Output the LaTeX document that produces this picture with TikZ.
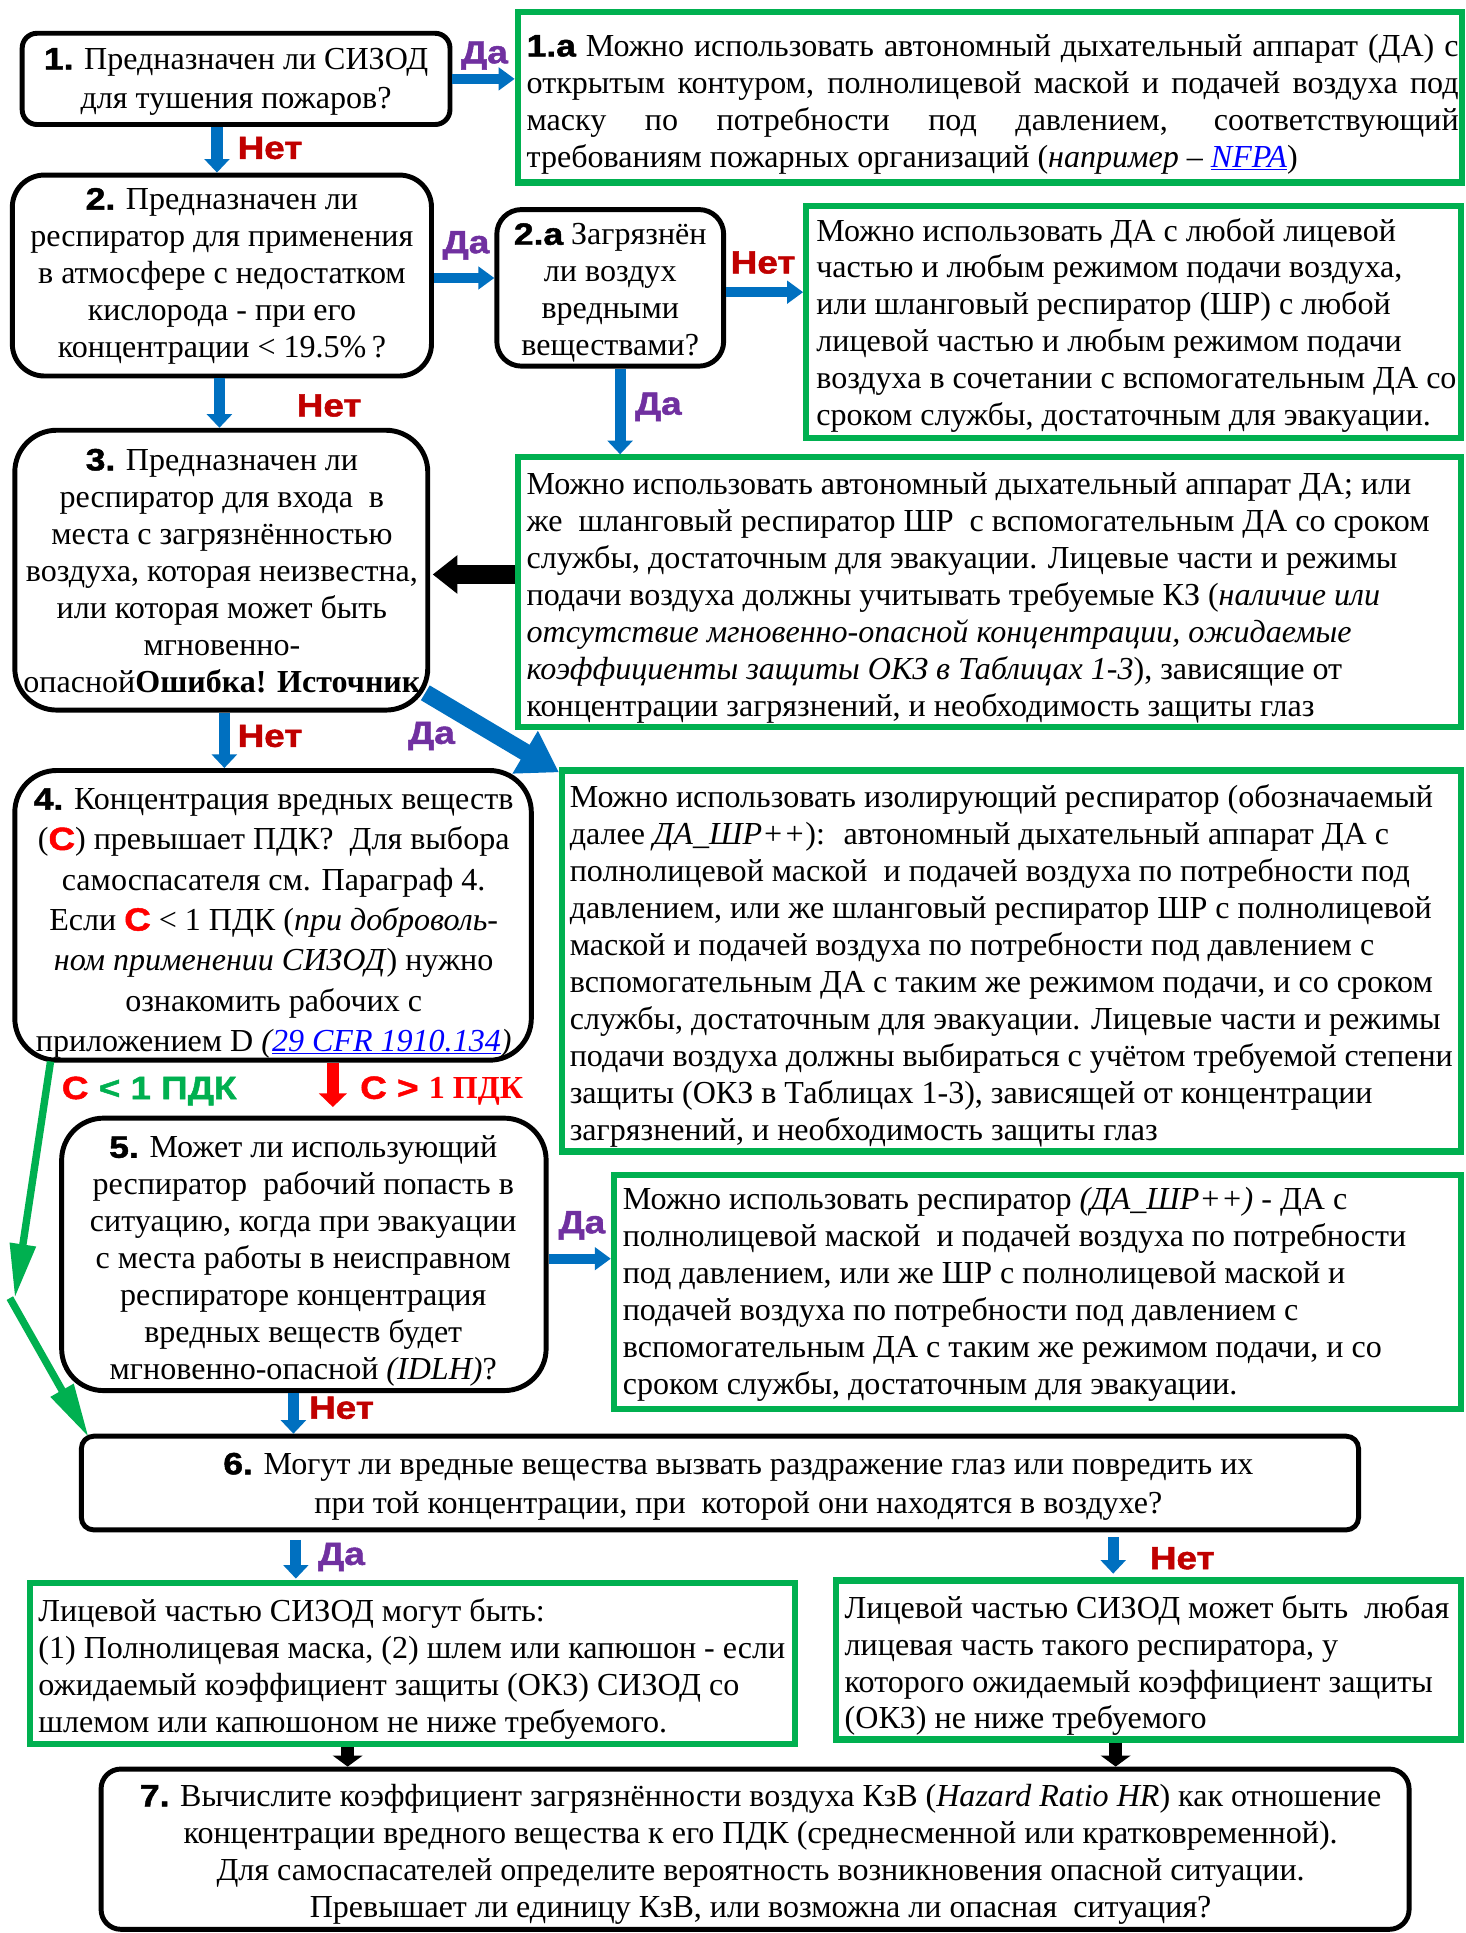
\documentclass[tikz,border=0pt]{standalone}
\usepackage{fontspec}
\setmainfont{Liberation Serif}
\newfontfamily\lbl{Liberation Sans}[FakeStretch=1.15, BoldFeatures={FakeBold=1.5}]
\usetikzlibrary{arrows.meta}
\definecolor{grn}{HTML}{00B050}
\definecolor{blu}{HTML}{0070C0}
\definecolor{pur}{HTML}{7030A0}
\definecolor{dred}{HTML}{C00000}
\definecolor{lnk}{HTML}{0000FF}
\newcommand\tfont{\fontsize{26}{30}\selectfont}
\newcommand\nm[1]{{\lbl\bfseries\fontsize{25}{30}\selectfont #1}}
\newcommand\cc{{\lbl\bfseries\color{red}C}}
\newcommand\lnkt[1]{\textcolor{lnk}{\underline{#1}}}
\tikzset{
  qbox/.style={draw=black, line width=4pt, fill=white, inner sep=0pt},
  gbox/.style={draw=grn, line width=5pt, fill=white, inner sep=0pt},
  ctxt/.style={inner sep=0pt, font=\tfont, align=center},
  ltxt/.style={inner sep=0pt, font=\tfont, align=left, anchor=west},
  lab/.style={inner sep=0pt, font=\lbl\bfseries\fontsize{26}{26}\selectfont},
  da/.style={lab, text=pur},
  net/.style={lab, text=dred},
  barrow/.style={draw=blu, line width=9pt, -{Triangle[length=11pt,width=20pt]}},
  harrow/.style={draw=blu, line width=8pt, -{Triangle[length=13pt,width=18pt]}},
  bigarrow/.style={draw=blu, line width=14pt, -{Triangle[length=32pt,width=38pt]}},
  blkarrow/.style={draw=black, line width=15pt, -{Triangle[length=20pt,width=30pt]}},
  smallblk/.style={draw=black, line width=11pt, -{Triangle[length=9pt,width=24pt]}},
  redarrow/.style={draw=red, line width=10pt, -{Triangle[length=11pt,width=22pt]}},
  grnarrow/.style={draw=grn, line width=6pt, -{Triangle[length=44pt,width=20pt]}},
}
\begin{document}
\begin{tikzpicture}[x=1pt,y=-1pt]
\fill[white] (0,0) rectangle (1189,1568);
\useasboundingbox (0,0) rectangle (1189,1568);

% ---------- boxes ----------
\node[qbox, rounded corners=12pt, minimum width=347pt, minimum height=74pt] (q1) at (191.5,64) {};
\node[gbox, minimum width=766pt, minimum height=138pt] (a1) at (803,79) {};
\node[qbox, rounded corners=26pt, minimum width=340pt, minimum height=163pt] (q2) at (180,223.5) {};
\node[qbox, rounded corners=20pt, minimum width=184pt, minimum height=127pt] (q2a) at (495,233.5) {};
\node[gbox, minimum width=531pt, minimum height=188pt] (g2) at (919.5,261) {};
\node[qbox, rounded corners=34pt, minimum width=335pt, minimum height=227pt] (q3) at (179.5,462.5) {};
\node[gbox, minimum width=765pt, minimum height=219pt] (g3) at (802.5,480.5) {};
\node[qbox, rounded corners=34pt, minimum width=419pt, minimum height=235pt] (q4) at (221.5,742.5) {};
\node[gbox, minimum width=729pt, minimum height=309pt] (g4) at (820.5,779.5) {};
\node[qbox, rounded corners=34pt, minimum width=393pt, minimum height=221pt] (q5) at (246.5,1017.5) {};
\node[gbox, minimum width=687pt, minimum height=190pt] (g5) at (841.5,1048) {};
\node[qbox, rounded corners=10pt, minimum width=1036pt, minimum height=76pt] (q6) at (584,1203) {};
\node[gbox, minimum width=621pt, minimum height=131pt] (g6L) at (334.5,1349.5) {};
\node[gbox, minimum width=507pt, minimum height=129pt] (g6R) at (931.5,1346.5) {};
\node[qbox, rounded corners=16pt, minimum width=1061pt, minimum height=130pt] (q7) at (612.5,1500) {};

% ---------- texts ----------
\node[ctxt, font=\fontsize{26}{32}\selectfont] (t1) at (191.5,66.5) {\nm{1.} Предназначен ли СИЗОД\\для тушения пожаров?};
\node[inner sep=0pt, font=\tfont, text width=756pt, align=justify, anchor=west] (ta1) at (427,84.5)
 {\nm{1.a} Можно использовать автономный дыхательный аппарат (ДА) с\linebreak
  открытым контуром, полнолицевой маской и подачей воздуха под\linebreak
  маску по потребности под давлением, соответствующий\linebreak
  требованиям пожарных организаций (\textit{например} – \lnkt{\textit{NFPA}})};
\node[ctxt] (t2) at (180,224) {\nm{2.} Предназначен ли\\респиратор для применения\\в атмосфере с недостатком\\кислорода - при его\\концентрации < 19.5\%\,?};
\node[ctxt] (t2a) at (495,237.5) {\nm{2.a} Загрязнён\\ли воздух\\вредными\\веществами?};
\node[ltxt] (tg2) at (662,264) {Можно использовать ДА с любой лицевой\\частью и любым режимом подачи воздуха,\\или шланговый респиратор (ШР) с любой\\лицевой частью и любым режимом подачи\\воздуха в сочетании с вспомогательным ДА со\\сроком службы, достаточным для эвакуации.};
\node[ctxt] (t3) at (180,463) {\nm{3.} Предназначен ли\\респиратор для входа \ в\\места с загрязнённостью\\воздуха, которая неизвестна,\\или которая может быть\\мгновенно-\\опасной\textbf{Ошибка! Источник}};
\node[ltxt] (tg3) at (427,485) {Можно использовать автономный дыхательный аппарат ДА; или\\же \ шланговый респиратор ШР \ с вспомогательным ДА со сроком\\службы, достаточным для эвакуации. Лицевые части и режимы\\подачи воздуха должны учитывать требуемые КЗ (\textit{наличие или}\\\textit{отсутствие мгновенно-опасной концентрации, ожидаемые}\\\textit{коэффициенты защиты ОКЗ в Таблицах 1-3}), зависящие от\\концентрации загрязнений, и необходимость защиты глаз};
\node[ctxt, font=\fontsize{26}{32.7}\selectfont] (t4) at (222,749) {\nm{4.} Концентрация вредных веществ\\(\cc) превышает ПДК? \ Для выбора\\самоспасателя см. Параграф 4.\\Если \cc{} < 1 ПДК (\textit{при доброволь-}\\\textit{ном применении СИЗОД}) нужно\\ознакомить рабочих с\\приложением D \textit{(\lnkt{29 CFR 1910.134})}};
\node[ltxt] (tg4) at (462,783.5) {Можно использовать изолирующий респиратор (обозначаемый\\далее \textit{ДА\_ШР++}): \ автономный дыхательный аппарат ДА с\\полнолицевой маской \ и подачей воздуха по потребности под\\давлением, или же шланговый респиратор ШР с полнолицевой\\маской и подачей воздуха по потребности под давлением с\\вспомогательным ДА с таким же режимом подачи, и со сроком\\службы, достаточным для эвакуации. Лицевые части и режимы\\подачи воздуха должны выбираться с учётом требуемой степени\\защиты (ОКЗ в Таблицах 1-3), зависящей от концентрации\\загрязнений, и необходимость защиты глаз};
\node[ctxt] (t5) at (246,1023) {\nm{5.} Может ли использующий\\респиратор \ рабочий попасть в\\ситуацию, когда при эвакуации\\с места работы в неисправном\\респираторе концентрация\\вредных веществ будет\\мгновенно-опасной \textit{(IDLH)}?};
\node[ltxt] (tg5) at (505,1050) {Можно использовать респиратор \textit{(ДА\_ШР++)} - ДА с\\полнолицевой маской \ и подачей воздуха по потребности\\под давлением, или же ШР с полнолицевой маской и\\подачей воздуха по потребности под давлением с\\вспомогательным ДА с таким же режимом подачи, и со\\сроком службы, достаточным для эвакуации.};
\node[ctxt, font=\fontsize{26}{32}\selectfont] (t6) at (599,1206) {\nm{6.} Могут ли вредные вещества вызвать раздражение глаз или повредить их\\при той концентрации, при \ которой они находятся в воздухе?};
\node[ltxt] (tg6L) at (31,1354) {Лицевой частью СИЗОД могут быть:\\(1) Полнолицевая маска, (2) шлем или капюшон - если\\ожидаемый коэффициент защиты (ОКЗ) СИЗОД со\\шлемом или капюшоном не ниже требуемого.};
\node[ltxt] (tg6R) at (685,1351) {Лицевой частью СИЗОД может быть \ любая\\лицевая часть такого респиратора, у\\которого ожидаемый коэффициент защиты\\(ОКЗ) не ниже требуемого};
\node[ctxt] (t7) at (617,1504) {\nm{7.} Вычислите коэффициент загрязнённости воздуха КзВ (\textit{Hazard Ratio HR}) как отношение\\концентрации вредного вещества к его ПДК (среднесменной или кратковременной).\\Для самоспасателей определите вероятность возникновения опасной ситуации.\\Превышает ли единицу КзВ, или возможна ли опасная \ ситуация?};

% ---------- labels ----------
\node[da] (l1) at (393,45) {Да};
\node[net] (l2) at (219,120) {Нет};
\node[da] (l3) at (378,199) {Да};
\node[net] (l4) at (619,213) {Нет};
\node[da] (l5) at (534,330) {Да};
\node[net] (l6) at (267,329) {Нет};
\node[net] (l7) at (219,597) {Нет};
\node[da] (l8) at (350,597) {Да};
\node[lab, anchor=west] (l9) at (50,885) {\textcolor{red}{C} \textcolor{grn}{< 1 ПДК}};
\node[lab, anchor=west, text=red] (l10) at (292,885) {C > {\rmfamily 1 ПДК}};
\node[da] (l11) at (472,994) {Да};
\node[net] (l12) at (277,1142) {Нет};
\node[da] (l13) at (277,1263) {Да};
\node[net] (l14) at (959,1264) {Нет};

% ---------- connectors ----------
\draw[harrow] (q1.east) -- (q1.east -| a1.west);
\draw[barrow] ([xshift=-15.5pt]q1.south) -- ([xshift=-15.5pt]q1.south |- q2.north);
\draw[harrow] ([yshift=-2pt]q2.east) -- ([yshift=-2pt]q2.east -| q2a.west);
\draw[harrow] ([yshift=-3.5pt]q2a.east) -- ([yshift=-3.5pt]q2a.east -| g2.west);
\draw[barrow] ([xshift=8pt]q2a.south) -- ([xshift=8pt]q2a.south |- g3.north);
\draw[barrow] ([xshift=-2pt]q2.south) -- ([xshift=-2pt]q2.south |- q3.north);
\draw[blkarrow] ([yshift=-3.5pt]g3.west |- q3.east) -- ([yshift=-3.5pt,xshift=2pt]q3.east);
\draw[barrow] ([xshift=2.5pt]q3.south) -- ([xshift=2.5pt]q3.south |- q4.north);
\draw[bigarrow] ([xshift=-4pt,yshift=16pt]q3.south east) -- ([yshift=-4pt]g4.north west);
\draw[redarrow] ([xshift=48.5pt]q4.south) -- ([xshift=23.5pt,yshift=7pt]q5.north);
\coordinate (gm) at (12,1053);
\draw[grnarrow] ([xshift=31pt,yshift=1pt]q4.south west) -- (gm);
\draw[grnarrow] ([xshift=-4pt]gm) -- ([xshift=8pt,yshift=-3pt]q6.north west);
\draw[harrow] ([yshift=-3.5pt]q5.east) -- ([yshift=-3.5pt]q5.east -| g5.west);
\draw[barrow] ([xshift=-8.5pt]q5.south) -- ([xshift=-8.5pt]q5.south |- q6.north);
\draw[barrow] ([xshift=-344pt,yshift=-6pt]q6.south) -- ([xshift=-94.5pt,yshift=1pt]g6L.north);
\draw[barrow] ([xshift=319pt,yshift=-4pt]q6.south) -- ([xshift=-28.5pt,yshift=3pt]g6R.north);
\draw[smallblk] ([xshift=-52.5pt]g6L.south) -- ([xshift=-330.5pt]q7.north);
\draw[smallblk] ([xshift=-26.5pt]g6R.south) -- ([xshift=292.5pt]q7.north);
\end{tikzpicture}
\end{document}
